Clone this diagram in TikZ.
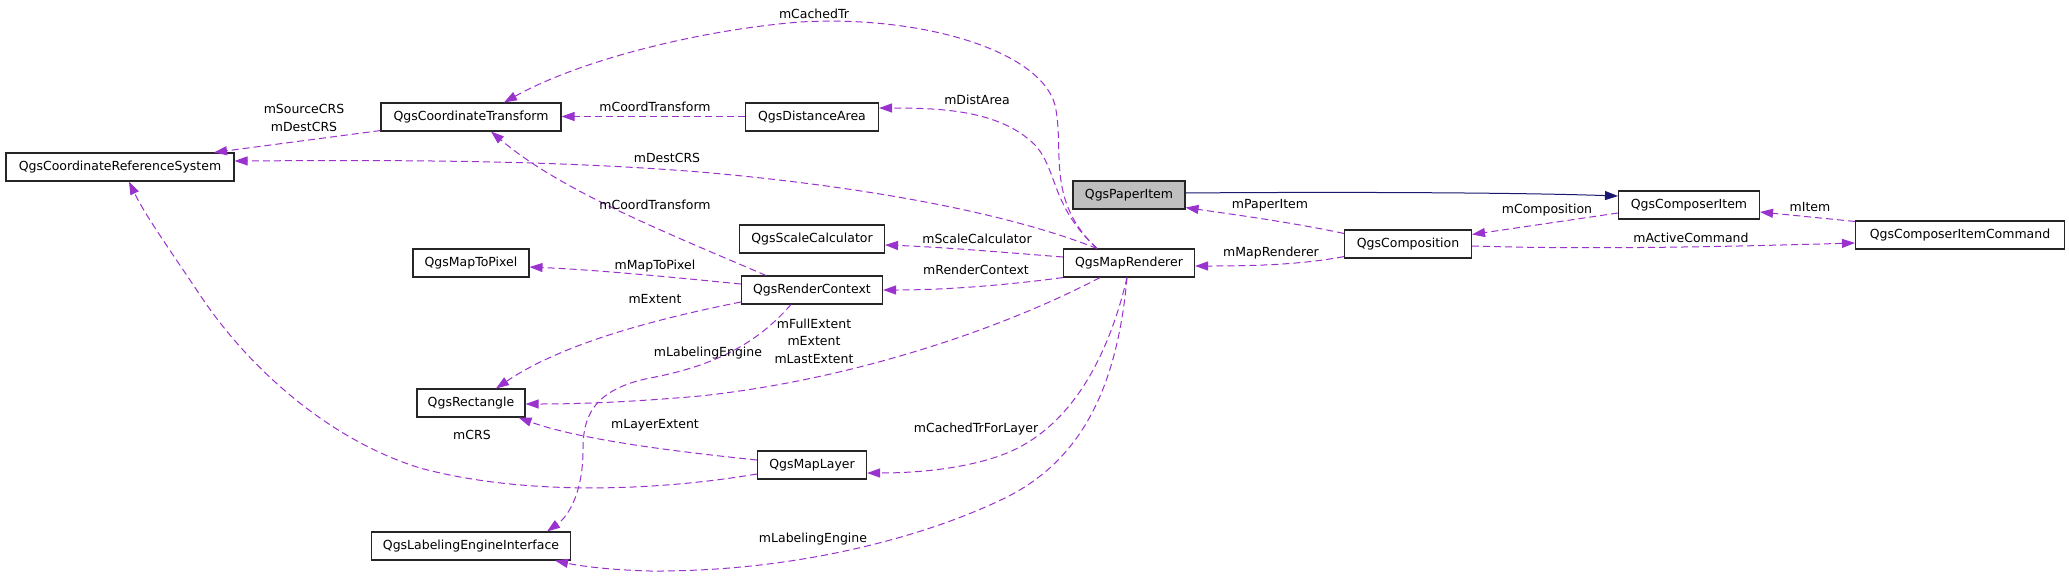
\documentclass[tikz,border=0pt]{standalone}
\usepackage{fontspec}
\setmainfont{DejaVu Sans}
\usetikzlibrary{arrows.meta}
\definecolor{edgepurple}{HTML}{9A32CD}
\definecolor{edgenavy}{HTML}{191970}
\definecolor{paperfill}{HTML}{BFBFBF}
\begin{document}
\begin{tikzpicture}[x=1pt,y=-1pt,
  cls/.style={draw=black!85, line width=1.1pt, fill=white, minimum height=28pt, inner sep=0pt, font=\fontsize{12.5}{15}\selectfont},
  lbl/.style={inner sep=0pt, font=\fontsize{12.5}{17.5}\selectfont, align=center},
  use/.style={draw=edgepurple, line width=1pt, dash pattern=on 7pt off 4pt, -{Triangle[length=13pt,width=9pt,fill=edgepurple]}},
  inh/.style={draw=edgenavy, line width=1pt, -{Triangle[length=13pt,width=9pt,fill=edgenavy]}}]
\useasboundingbox[fill=white] (0,0) rectangle (2069,587);

% classes
\node[cls, minimum width=228pt] (crs) at (120,167) {QgsCoordinateReferenceSystem};
\node[cls, minimum width=180pt] (ct) at (471,117) {QgsCoordinateTransform};
\node[cls, minimum width=116pt] (mtp) at (471,263) {QgsMapToPixel};
\node[cls, minimum width=108pt] (rect) at (471,403) {QgsRectangle};
\node[cls, minimum width=199pt] (lei) at (471,546) {QgsLabelingEngineInterface};
\node[cls, minimum width=133pt] (da) at (812,117) {QgsDistanceArea};
\node[cls, minimum width=145pt] (sc) at (812,239) {QgsScaleCalculator};
\node[cls, minimum width=141pt] (rc) at (812,290) {QgsRenderContext};
\node[cls, minimum width=109pt] (ml) at (812,465) {QgsMapLayer};
\node[cls, minimum width=112pt, fill=paperfill] (pi) at (1129,195) {QgsPaperItem};
\node[cls, minimum width=131pt] (mr) at (1129,263) {QgsMapRenderer};
\node[cls, minimum width=127pt] (comp) at (1408,244) {QgsComposition};
\node[cls, minimum width=141pt] (ci) at (1689,205) {QgsComposerItem};
\node[cls, minimum width=209pt] (cic) at (1960,235) {QgsComposerItemCommand};

% inheritance
\draw[inh] ([yshift=2pt]pi.east) .. controls (1300,192) and (1500,192) .. ([yshift=9pt]ci.west);

% usage edges
\draw[use] ([yshift=-8pt]ci.west) -- ([yshift=-5pt]comp.north east);
\draw[use] ([yshift=-1pt]cic.north west) -- ([yshift=-7pt]ci.east);
\draw[use] ([yshift=-2pt]comp.east) .. controls (1600,250) and (1750,246) .. ([yshift=-8pt]cic.west);
\draw[use] ([yshift=-4pt]comp.north west) .. controls (1290,222) and (1230,214) .. ([yshift=2pt]pi.south east);
\draw[use] ([yshift=2pt]comp.south west) .. controls (1300,265) and (1250,266) .. ([yshift=-3pt]mr.east);
\draw[use] ([yshift=6pt]mr.west) .. controls (1000,252) and (940,247) .. ([yshift=-6pt]sc.east);
\draw[use] (mr.south west) .. controls (1000,286) and (940,290) .. (rc.east);
\draw[use] ([xshift=-32pt]mr.north) .. controls (1050,205) and (1058,170) .. (1035,145) .. controls (1000,110) and (940,108) .. ([yshift=9pt]da.east);
\draw[use] ([xshift=-32pt]mr.north) .. controls (1045,200) and (1065,150) .. (1055,105) .. controls (1040,50) and (920,15) .. (800,22) .. controls (700,30) and (580,60) .. ([xshift=33pt]ct.north);
\draw[use] ([xshift=-32pt]mr.north) .. controls (1000,210) and (850,185) .. (700,172) .. controls (550,160) and (400,160) .. ([yshift=6pt]crs.east);
\draw[use] ([yshift=1pt]ct.south west) -- ([xshift=94pt]crs.north);
\draw[use] ([yshift=0.5pt]da.west) -- ([yshift=0.5pt]ct.east);
\draw[use] ([xshift=-46pt]rc.north) .. controls (660,230) and (560,190) .. ([xshift=20pt]ct.south);
\draw[use] ([yshift=6pt]rc.west) .. controls (680,278) and (600,270) .. ([yshift=-4pt]mtp.east);
\draw[use] ([yshift=-12pt]rc.west) .. controls (650,320) and (560,345) .. ([xshift=25pt]rect.north);
\draw[use] ([xshift=-21pt]rc.south) .. controls (760,340) and (720,365) .. (650,378) .. controls (590,390) and (583,420) .. (583,450) .. controls (583,490) and (570,515) .. ([xshift=76pt]lei.north);
\draw[use] ([xshift=-29pt]mr.south) .. controls (1000,330) and (850,380) .. (700,396) .. controls (620,403) and (570,404) .. ([yshift=-1pt]rect.east);
\draw[use] ([xshift=-2pt]mr.south) .. controls (1110,350) and (1075,425) .. (1007,453) .. controls (970,468) and (920,473) .. ([yshift=-8pt]ml.east);
\draw[use] ([xshift=-2pt]mr.south) .. controls (1117,390) and (1080,460) .. (1007,497) .. controls (930,535) and (800,572) .. (650,571) .. controls (610,570) and (580,566) .. ([xshift=-16pt]lei.south east);
\draw[use] ([yshift=5pt]ml.west) .. controls (680,452) and (580,440) .. ([xshift=-7pt]rect.south east);
\draw[use] ([yshift=-9pt]ml.west) .. controls (650,492) and (520,495) .. (420,468) .. controls (330,440) and (250,370) .. (200,295) .. controls (170,250) and (145,215) .. ([xshift=9pt]crs.south);

% labels
\node[lbl] (l1) at (814,14) {mCachedTr};
\node[lbl] (l2) at (304,118) {mSourceCRS\\mDestCRS};
\node[lbl] (l3) at (655,107) {mCoordTransform};
\node[lbl] (l4) at (977,100) {mDistArea};
\node[lbl] (l5) at (667,158) {mDestCRS};
\node[lbl] (l6) at (655,205) {mCoordTransform};
\node[lbl] (l7) at (1270,205) {mPaperItem};
\node[lbl] (l8) at (1547,210) {mComposition};
\node[lbl] (l9) at (1810,207) {mItem};
\node[lbl] (l10) at (1691,238) {mActiveCommand};
\node[lbl] (l11) at (977,239) {mScaleCalculator};
\node[lbl] (l12) at (1271,253) {mMapRenderer};
\node[lbl] (l13) at (655,266) {mMapToPixel};
\node[lbl] (l14) at (976,270) {mRenderContext};
\node[lbl] (l15) at (655,299) {mExtent};
\node[lbl] (l16) at (814,341) {mFullExtent\\mExtent\\mLastExtent};
\node[lbl] (l17) at (708,353) {mLabelingEngine};
\node[lbl] (l18) at (655,425) {mLayerExtent};
\node[lbl] (l19) at (976,429) {mCachedTrForLayer};
\node[lbl] (l20) at (472,435) {mCRS};
\node[lbl] (l21) at (813,539) {mLabelingEngine};
\end{tikzpicture}
\end{document}
